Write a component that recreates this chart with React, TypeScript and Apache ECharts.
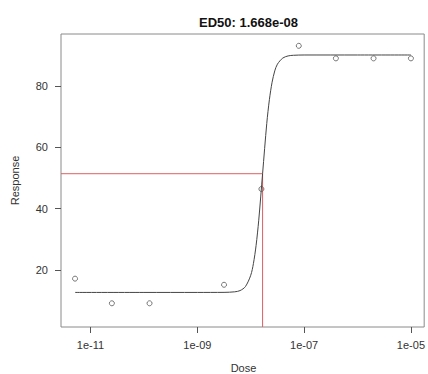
import React, { useEffect, useRef } from "react";
import * as echarts from "echarts";

// Observed data (log10 dose, response)
const doseLog: number[] = [-11.29, -10.6, -9.895, -8.5, -7.8, -7.1, -6.405, -5.7, -5.0];
const response: number[] = [17.1, 9.05, 9.05, 15.1, 46.4, 93.2, 89.1, 89.1, 89.1];

// Fitted curve (log10 dose, response)
const curveLog: number[] = [-11.29, -10.0, -9.0, -8.5, -8.3, -8.2, -8.1, -8.0, -7.95, -7.9, -7.85, -7.778, -7.7, -7.65, -7.6, -7.55, -7.5, -7.4, -7.3, -7.2, -7.0, -6.0, -5.0];
const curveResp: number[] = [12.6, 12.6, 12.6, 12.62, 12.8, 13.2, 14.5, 18.2, 22.0, 27.9, 36.2, 51.4, 67.8, 75.7, 81.3, 85.0, 87.2, 89.2, 89.9, 90.1, 90.2, 90.2, 90.2];

// ED50 marker
const ed50Log = -7.778;
const ed50Resp = 51.4;
const titleText = "ED50: 1.668e-08";

// Axes
const xMin = -11.553;
const xMax = -4.752;
const yMin = 1.3;
const yMax = 97.06;
const xTickValues: number[] = [-11, -9, -7, -5];
const xTickLabels: string[] = ["1e-11", "1e-09", "1e-07", "1e-05"];
const yTickValues: number[] = [20, 40, 60, 80];
const yTickLabels: string[] = ["20", "40", "60", "80"];

const FONT = "Liberation Sans, Arial, Helvetica, sans-serif";

export default function App() {
  const ref = useRef<HTMLDivElement>(null);
  useEffect(() => {
    if (!ref.current) return;
    const chart = echarts.init(ref.current, undefined, { renderer: "svg" });
    const points = doseLog.map((x, i) => [x, response[i]]);
    const curve = curveLog.map((x, i) => [x, curveResp[i]]);
    const red = [
      [xMin, ed50Resp],
      [ed50Log, ed50Resp],
      [ed50Log, yMin],
    ];
    chart.setOption({
      animation: false,
      backgroundColor: "#ffffff",
      title: {
        text: titleText,
        left: 243.5,
        top: 11,
        textAlign: "center",
        textStyle: { fontFamily: FONT, fontSize: 13, fontWeight: "bold", color: "#111" },
      },
      grid: {
        left: 61,
        right: 2,
        top: 34,
        bottom: 47,
        show: true,
        borderColor: "#8a8a8a",
        borderWidth: 1,
        backgroundColor: "transparent",
      },
      xAxis: {
        type: "value",
        min: xMin,
        max: xMax,
        splitLine: { show: false },
        axisLine: { show: false },
        axisTick: {
          show: true,
          length: 6,
          customValues: xTickValues,
          lineStyle: { color: "#555" },
        },
        axisLabel: {
          show: true,
          margin: 12,
          customValues: xTickValues,
          fontFamily: FONT,
          fontSize: 11,
          color: "#333",
          formatter: (v: number) => {
            const i = xTickValues.findIndex((t) => Math.abs(t - v) < 1e-6);
            return i >= 0 ? xTickLabels[i] : "";
          },
        },
      },
      yAxis: {
        type: "value",
        min: yMin,
        max: yMax,
        splitLine: { show: false },
        axisLine: { show: false },
        axisTick: {
          show: true,
          length: 6,
          customValues: yTickValues,
          lineStyle: { color: "#555" },
        },
        axisLabel: {
          show: true,
          margin: 13,
          customValues: yTickValues,
          fontFamily: FONT,
          fontSize: 11,
          color: "#333",
          formatter: (v: number) => {
            const i = yTickValues.findIndex((t) => Math.abs(t - v) < 1e-6);
            return i >= 0 ? yTickLabels[i] : "";
          },
        },
      },
      graphic: [
        {
          type: "text",
          x: 243.5,
          y: 368,
          style: {
            text: "Dose",
            fontFamily: FONT,
            fontSize: 11,
            fill: "#333",
            textAlign: "center",
            textVerticalAlign: "middle",
          },
        },
        {
          type: "text",
          x: 15,
          y: 180.5,
          rotation: Math.PI / 2,
          style: {
            text: "Response",
            fontFamily: FONT,
            fontSize: 11,
            fill: "#333",
            textAlign: "center",
            textVerticalAlign: "middle",
          },
        },
      ],
      series: [
        {
          type: "line",
          data: red,
          showSymbol: false,
          symbol: "none",
          lineStyle: { color: "#dd6060", width: 1 },
          z: 2,
        },
        {
          type: "line",
          data: curve,
          showSymbol: false,
          symbol: "none",
          smooth: 0.3,
          lineStyle: { color: "#444", width: 1 },
          z: 3,
        },
        {
          type: "scatter",
          data: points,
          symbol: "circle",
          symbolSize: 5,
          itemStyle: { color: "rgba(255,255,255,0)", borderColor: "#555", borderWidth: 1 },
          z: 4,
        },
      ],
    });
    return () => chart.dispose();
  }, []);
  return (
    <div
      ref={ref}
      style={{ position: "fixed", left: 0, top: 0, width: 428, height: 374 }}
    />
  );
}
